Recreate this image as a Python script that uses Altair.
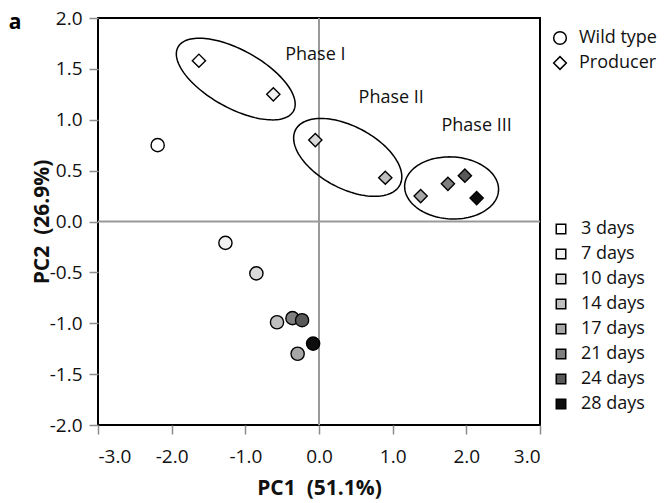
import altair as alt
import pandas as pd
import numpy as np

# ---------------- data ----------------
days = ["3 days", "7 days", "10 days", "14 days", "17 days", "21 days", "24 days", "28 days"]
day_colors = ["#ffffff", "#f2f2f2", "#d9d9d9", "#bfbfbf", "#a6a6a6", "#808080", "#595959", "#0d0d0d"]
types = ["Wild type", "Producer"]

wt_pc1 = [-2.19, -1.27, -0.85, -0.57, -0.29, -0.36, -0.23, -0.08]
wt_pc2 = [0.75, -0.21, -0.51, -0.99, -1.30, -0.95, -0.97, -1.20]
pr_pc1 = [-1.63, -0.62, -0.05, 0.90, 1.38, 1.75, 1.98, 2.14]
pr_pc2 = [1.58, 1.25, 0.80, 0.43, 0.25, 0.37, 0.45, 0.23]

phase_labels = ["Phase I", "Phase II", "Phase III"]
phase_x = [-0.05, 0.98, 2.14]
phase_y = [1.64, 1.21, 0.94]

# ellipse annotations: centre in data units, semi-axes in pixels, tilt in degrees (clockwise on screen)
ell_cx = [-1.13, 0.39, 1.80]
ell_cy = [1.40, 0.63, 0.33]
ell_a = [66, 59, 47]
ell_b = [29, 31, 31]
ell_angle = [29, 28, 3]

panel_letter = "a"

x_ticks = [-3, -2, -1, 0, 1, 2, 3]
y_ticks = [-2, -1.5, -1, -0.5, 0, 0.5, 1, 1.5, 2]
x_domain = [-3, 3]
y_domain = [-2, 2]

W, H = 442, 407
FONT = "Open Sans"

# ---------------- tables ----------------
pts = pd.DataFrame({
    "type": ["Wild type"] * len(days) + ["Producer"] * len(days),
    "days": days + days,
    "pc1": wt_pc1 + pr_pc1,
    "pc2": wt_pc2 + pr_pc2,
})

xpu = W / (x_domain[1] - x_domain[0])
ypu = H / (y_domain[1] - y_domain[0])
rows = []
t = np.linspace(0, 2 * np.pi, 145)
for k, name in enumerate(phase_labels):
    th = np.deg2rad(ell_angle[k])
    px = ell_a[k] * np.cos(t) * np.cos(th) - ell_b[k] * np.sin(t) * np.sin(th)
    py = ell_a[k] * np.cos(t) * np.sin(th) + ell_b[k] * np.sin(t) * np.cos(th)
    for i in range(len(t)):
        rows.append({"phase": name, "i": i,
                     "pc1": ell_cx[k] + px[i] / xpu,
                     "pc2": ell_cy[k] - py[i] / ypu})
ell = pd.DataFrame(rows)

labels = pd.DataFrame({"label": phase_labels, "pc1": phase_x, "pc2": phase_y})

minus_fix = "(datum.value < 0 ? '-' : '') + format(abs(datum.value), '.1f')"

xs = alt.Scale(domain=x_domain, nice=False, zero=False)
ys = alt.Scale(domain=y_domain, nice=False, zero=False)

X = alt.X("pc1:Q", scale=xs,
          axis=alt.Axis(values=x_ticks, labelExpr=minus_fix, title="PC1\u00a0 (51.1%)",
                        labelPadding=13, titleY=52))
Y = alt.Y("pc2:Q", scale=ys,
          axis=alt.Axis(values=y_ticks, labelExpr=minus_fix, title="PC2\u00a0 (26.9%)",
                        labelPadding=7, titleX=-46))

zero_df = pd.DataFrame({"pc1": [0], "pc2": [0]})
vline = alt.Chart(zero_df).mark_rule(color="#999999", strokeWidth=2).encode(x=alt.X("pc1:Q", scale=xs))
hline = alt.Chart(zero_df).mark_rule(color="#999999", strokeWidth=2).encode(y=alt.Y("pc2:Q", scale=ys))

ellipses = alt.Chart(ell).mark_line(color="black", strokeWidth=1.5).encode(
    x=alt.X("pc1:Q", scale=xs), y=alt.Y("pc2:Q", scale=ys),
    detail="phase:N", order="i:Q")

texts = alt.Chart(labels).mark_text(font=FONT, fontSize=18, color="#111111").encode(
    x=alt.X("pc1:Q", scale=xs), y=alt.Y("pc2:Q", scale=ys), text="label:N")

letter = alt.Chart(pd.DataFrame({"t": [panel_letter]})).mark_text(
    font=FONT, fontSize=21, fontWeight="bold", color="black").encode(
    x=alt.value(-83), y=alt.value(5), text="t:N")

points = alt.Chart(pts).mark_point(filled=True, stroke="black", strokeWidth=1.4,
                                   size=175, opacity=1).encode(
    x=X, y=Y,
    shape=alt.Shape("type:N", scale=alt.Scale(domain=types, range=["circle", "diamond"]),
                    legend=alt.Legend(title=None, orient="none", legendX=453, legendY=11,
                                      symbolFillColor="white", symbolStrokeColor="black",
                                      symbolStrokeWidth=1.5, symbolSize=160,
                                      labelOffset=10, rowPadding=5, padding=0)),
    fill=alt.Fill("days:N", scale=alt.Scale(domain=days, range=day_colors),
                  legend=alt.Legend(title=None, orient="none", legendX=454, legendY=202,
                                    symbolType="square", symbolStrokeColor="black",
                                    symbolStrokeWidth=1.5, symbolSize=90,
                                    labelOffset=11, rowPadding=7, padding=0)),
)

chart = alt.layer(vline, hline, ellipses, texts, letter, points).properties(
    width=W, height=H,
    autosize=alt.AutoSizeParams(type="none"),
    padding={"left": 98, "top": 18, "right": 124, "bottom": 78},
).configure_view(stroke="black", strokeWidth=2).configure_axis(
    grid=False, domain=False, tickColor="#8c8c8c", tickWidth=1.5, tickSize=9,
    labelFont=FONT, labelFontSize=19, labelColor="#111111",
    titleFont=FONT, titleFontSize=21, titleFontWeight="bold", titleColor="#111111",
).configure_legend(labelFont=FONT, labelFontSize=18, labelColor="#111111")

chart.save("out.html", embed_options={"renderer": "svg", "actions": False})
